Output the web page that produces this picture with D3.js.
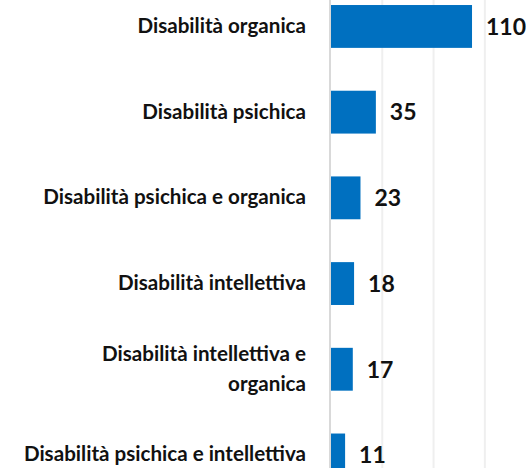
<!DOCTYPE html>
<html><head><meta charset="utf-8">
<script src="https://cdn.jsdelivr.net/npm/d3@7"></script>
<style>html,body{margin:0;padding:0;background:#fff;}svg{display:block;}</style>
</head><body>
<svg id="c" width="526" height="468"></svg>
<script>
const categories = [
  ["Disabilità organica"],
  ["Disabilità psichica"],
  ["Disabilità psichica e organica"],
  ["Disabilità intellettiva"],
  ["Disabilità intellettiva e", "organica"],
  ["Disabilità psichica e intellettiva"]
];
const values = [110, 35, 23, 18, 17, 11];
const tickValues = [0, 40, 80, 120, 160];

const svg = d3.select("#c");
const W = 526, H = 468;
const x0 = 331;
const x = d3.scaleLinear().domain([0, 160]).range([x0, x0 + 160 * 1.282]);
const keys = categories.map(c => c.join(" "));
const y = d3.scaleBand().domain(keys).range([-16.4, 497.8]).paddingInner(0.5).paddingOuter(0.25);

// gridlines
svg.append("g").selectAll("line").data(tickValues.slice(1)).join("line")
  .attr("x1", d => x(d)).attr("x2", d => x(d))
  .attr("y1", 0).attr("y2", H)
  .attr("stroke", "#efefef").attr("stroke-width", 2);

// bars
svg.append("g").selectAll("rect").data(values).join("rect")
  .attr("x", x(0))
  .attr("y", (d, i) => y(keys[i]))
  .attr("width", d => x(d) - x(0))
  .attr("height", y.bandwidth())
  .attr("fill", "#0070C0");

// axis line
svg.append("line").attr("x1", x(0) - 1).attr("x2", x(0) - 1).attr("y1", 0).attr("y2", H)
  .attr("stroke", "#d9d9d9").attr("stroke-width", 2);

// value labels
svg.append("g").selectAll("text").data(values).join("text")
  .attr("x", d => x(d) + 14)
  .attr("y", (d, i) => y(keys[i]) + y.bandwidth() / 2 + 8.3)
  .attr("font-family", "Lato, sans-serif").attr("font-weight", "bold")
  .attr("font-size", 23).attr("fill", "#111")
  .text(d => d);

// category labels
const cg = svg.append("g");
categories.forEach((lines, i) => {
  const cy = y(keys[i]) + y.bandwidth() / 2;
  const lh = 30;
  const t = cg.append("text")
    .attr("text-anchor", "end")
    .attr("font-family", "Lato, sans-serif").attr("font-weight", "bold")
    .attr("font-size", 20.6).attr("fill", "#111");
  lines.forEach((ln, j) => {
    t.append("tspan").attr("x", 306)
      .attr("y", cy + 6.5 + (j - (lines.length - 1) / 2) * lh)
      .text(ln);
  });
});
</script>
</body></html>
